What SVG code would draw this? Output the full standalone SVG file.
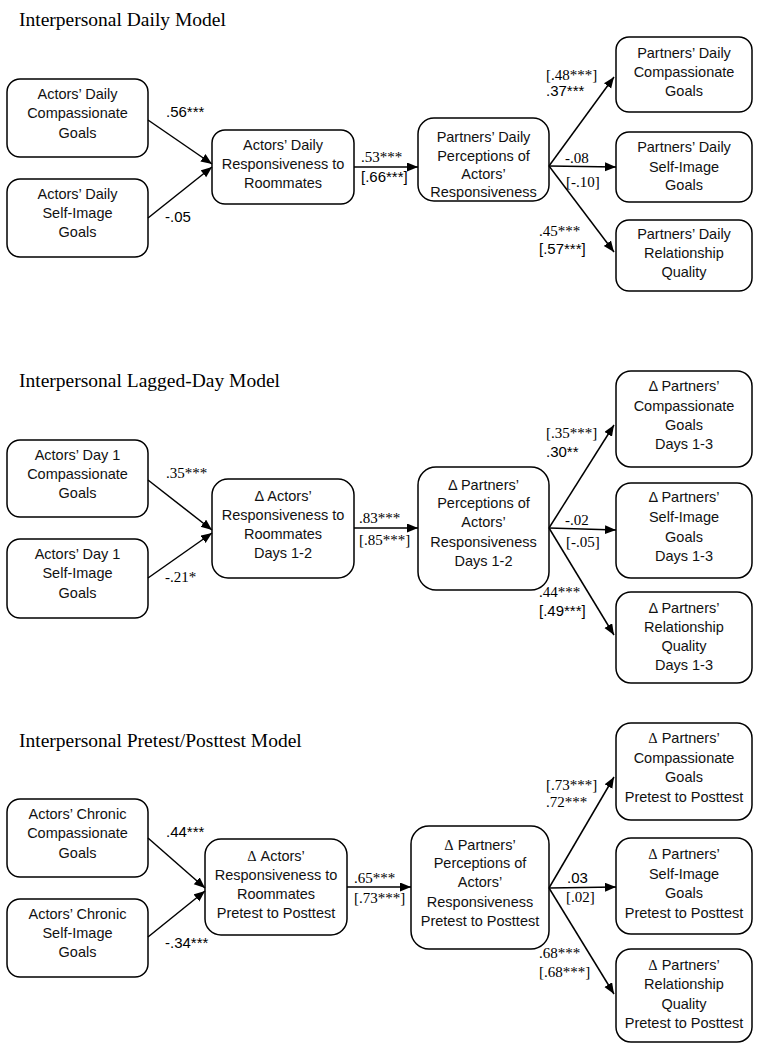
<svg xmlns="http://www.w3.org/2000/svg" width="766" height="1050" viewBox="0 0 766 1050">
<style>
.bg{fill:#fff}
.box{fill:#fff;stroke:#000;stroke-width:1.5}
.t{font-family:"Liberation Sans",Arial,sans-serif;font-size:14.5px;fill:#111;text-anchor:middle}
.title{font-family:"Liberation Serif","Times New Roman",serif;font-size:19.5px;fill:#000}
.ls{font-family:"Liberation Serif","Times New Roman",serif;font-size:15px;fill:#000}
.lsa{font-family:"Liberation Sans",Arial,sans-serif;font-size:15px;fill:#000}
.e{stroke:#000;stroke-width:1.5;fill:none;marker-end:url(#ah)}
.d{font-family:"Liberation Serif","Times New Roman",serif}
</style>
<defs>
<marker id="ah" markerUnits="userSpaceOnUse" markerWidth="12" markerHeight="10" refX="11" refY="4.5" orient="auto">
<path d="M0,0 L11,4.5 L0,9 z" fill="#000"/>
</marker>
</defs>
<rect class="bg" x="0" y="0" width="766" height="1050"/>

<!-- Section 1 -->
<text class="title" x="19" y="26">Interpersonal Daily Model</text>
<g id="s1-a1"><rect class="box" x="7" y="79" width="141" height="78" rx="13"/>
<text class="t" x="77.5" y="99">Actors’ Daily</text><text class="t" x="77.5" y="118">Compassionate</text><text class="t" x="77.5" y="138">Goals</text></g>
<g id="s1-a2"><rect class="box" x="7" y="179" width="141" height="78" rx="13"/>
<text class="t" x="77.5" y="199">Actors’ Daily</text><text class="t" x="77.5" y="218">Self-Image</text><text class="t" x="77.5" y="237">Goals</text></g>
<g id="s1-r"><rect class="box" x="212" y="130" width="142" height="74" rx="13"/>
<text class="t" x="283" y="150">Actors’ Daily</text><text class="t" x="283" y="169">Responsiveness to</text><text class="t" x="283" y="188">Roommates</text></g>
<g id="s1-p"><rect class="box" x="418" y="118" width="131" height="83" rx="16"/>
<text class="t" x="483.5" y="142">Partners’ Daily</text><text class="t" x="483.5" y="161">Perceptions of</text><text class="t" x="483.5" y="179">Actors’</text><text class="t" x="483.5" y="197">Responsiveness</text></g>
<g id="s1-o1"><rect class="box" x="616" y="37" width="136" height="75" rx="13"/>
<text class="t" x="684" y="58">Partners’ Daily</text><text class="t" x="684" y="77">Compassionate</text><text class="t" x="684" y="96">Goals</text></g>
<g id="s1-o2"><rect class="box" x="616" y="132" width="136" height="70" rx="13"/>
<text class="t" x="684" y="152">Partners’ Daily</text><text class="t" x="684" y="172">Self-Image</text><text class="t" x="684" y="190">Goals</text></g>
<g id="s1-o3"><rect class="box" x="616" y="220" width="136" height="71" rx="13"/>
<text class="t" x="684" y="239">Partners’ Daily</text><text class="t" x="684" y="258">Relationship</text><text class="t" x="684" y="277">Quality</text></g>

<!-- Section 2 -->
<text class="title" x="19" y="387">Interpersonal Lagged-Day Model</text>
<g id="s2-a1"><rect class="box" x="7" y="440" width="141" height="77" rx="13"/>
<text class="t" x="77.5" y="460">Actors’ Day 1</text><text class="t" x="77.5" y="479">Compassionate</text><text class="t" x="77.5" y="498">Goals</text></g>
<g id="s2-a2"><rect class="box" x="7" y="539" width="141" height="79" rx="13"/>
<text class="t" x="77.5" y="559">Actors’ Day 1</text><text class="t" x="77.5" y="578">Self-Image</text><text class="t" x="77.5" y="598">Goals</text></g>
<g id="s2-r"><rect class="box" x="212" y="479" width="142" height="99" rx="16"/>
<text class="t" x="283" y="501">Δ Actors’</text><text class="t" x="283" y="520">Responsiveness to</text><text class="t" x="283" y="539">Roommates</text><text class="t" x="283" y="558">Days 1-2</text></g>
<g id="s2-p"><rect class="box" x="418" y="467" width="131" height="123" rx="18"/>
<text class="t" x="483.5" y="490">Δ Partners’</text><text class="t" x="483.5" y="508">Perceptions of</text><text class="t" x="483.5" y="527">Actors’</text><text class="t" x="483.5" y="547">Responsiveness</text><text class="t" x="483.5" y="566">Days 1-2</text></g>
<g id="s2-o1"><rect class="box" x="616" y="371" width="136" height="96" rx="15"/>
<text class="t" x="684" y="391">Δ Partners’</text><text class="t" x="684" y="411">Compassionate</text><text class="t" x="684" y="430">Goals</text><text class="t" x="684" y="449">Days 1-3</text></g>
<g id="s2-o2"><rect class="box" x="616" y="483" width="136" height="95" rx="15"/>
<text class="t" x="684" y="502">Δ Partners’</text><text class="t" x="684" y="522">Self-Image</text><text class="t" x="684" y="542">Goals</text><text class="t" x="684" y="561">Days 1-3</text></g>
<g id="s2-o3"><rect class="box" x="616" y="592" width="136" height="91" rx="15"/>
<text class="t" x="684" y="613">Δ Partners’</text><text class="t" x="684" y="632">Relationship</text><text class="t" x="684" y="651">Quality</text><text class="t" x="684" y="670">Days 1-3</text></g>

<!-- Section 3 -->
<text class="title" x="19" y="747">Interpersonal Pretest/Posttest Model</text>
<g id="s3-a1"><rect class="box" x="7" y="799" width="141" height="78" rx="13"/>
<text class="t" x="77.5" y="819">Actors’ Chronic</text><text class="t" x="77.5" y="838">Compassionate</text><text class="t" x="77.5" y="858">Goals</text></g>
<g id="s3-a2"><rect class="box" x="7" y="899" width="141" height="78" rx="13"/>
<text class="t" x="77.5" y="919">Actors’ Chronic</text><text class="t" x="77.5" y="938">Self-Image</text><text class="t" x="77.5" y="957">Goals</text></g>
<g id="s3-r"><rect class="box" x="205" y="839" width="142" height="96" rx="16"/>
<text class="t" x="276" y="861"><tspan class="d">Δ</tspan> Actors’</text><text class="t" x="276" y="880">Responsiveness to</text><text class="t" x="276" y="899">Roommates</text><text class="t" x="276" y="918">Pretest to Posttest</text></g>
<g id="s3-p"><rect class="box" x="411" y="826" width="138" height="123" rx="18"/>
<text class="t" x="480" y="850"><tspan class="d">Δ</tspan> Partners’</text><text class="t" x="480" y="868">Perceptions of</text><text class="t" x="480" y="887">Actors’</text><text class="t" x="480" y="907">Responsiveness</text><text class="t" x="480" y="926">Pretest to Posttest</text></g>
<g id="s3-o1"><rect class="box" x="616" y="723" width="136" height="97" rx="15"/>
<text class="t" x="684" y="743"><tspan class="d">Δ</tspan> Partners’</text><text class="t" x="684" y="763">Compassionate</text><text class="t" x="684" y="782">Goals</text><text class="t" x="684" y="802">Pretest to Posttest</text></g>
<g id="s3-o2"><rect class="box" x="616" y="838" width="136" height="96" rx="15"/>
<text class="t" x="684" y="859"><tspan class="d">Δ</tspan> Partners’</text><text class="t" x="684" y="879">Self-Image</text><text class="t" x="684" y="898">Goals</text><text class="t" x="684" y="918">Pretest to Posttest</text></g>
<g id="s3-o3"><rect class="box" x="616" y="949" width="136" height="93" rx="15"/>
<text class="t" x="684" y="970"><tspan class="d">Δ</tspan> Partners’</text><text class="t" x="684" y="989">Relationship</text><text class="t" x="684" y="1009">Quality</text><text class="t" x="684" y="1028">Pretest to Posttest</text></g>

<g id="connectors">
<!-- sec1 -->
<line class="e" x1="148" y1="120" x2="212" y2="164"/>
<line class="e" x1="148" y1="218" x2="212" y2="167"/>
<line class="e" x1="354" y1="167" x2="418" y2="167"/>
<line class="e" x1="549" y1="166" x2="614" y2="77"/>
<line class="e" x1="549" y1="166" x2="616" y2="167"/>
<line class="e" x1="549" y1="166" x2="614" y2="252"/>
<!-- sec2 -->
<line class="e" x1="148" y1="480" x2="212" y2="530"/>
<line class="e" x1="148" y1="578" x2="212" y2="533"/>
<line class="e" x1="354" y1="528" x2="418" y2="528"/>
<line class="e" x1="549" y1="528" x2="614" y2="425"/>
<line class="e" x1="549" y1="528" x2="616" y2="530"/>
<line class="e" x1="549" y1="528" x2="614" y2="635"/>
<!-- sec3 -->
<line class="e" x1="148" y1="838" x2="205" y2="888"/>
<line class="e" x1="148" y1="937" x2="205" y2="891"/>
<line class="e" x1="347" y1="887" x2="411" y2="887"/>
<line class="e" x1="549" y1="888" x2="614" y2="777"/>
<line class="e" x1="549" y1="888" x2="616" y2="887"/>
<line class="e" x1="549" y1="888" x2="614" y2="994"/>
</g>

<g id="labels">
<text class="lsa" x="166" y="117">.56***</text>
<text class="lsa" x="165" y="222">-.05</text>
<text class="ls" x="361" y="162">.53***</text>
<text class="lsa" x="361" y="182">[.66***]</text>
<text class="ls" x="546" y="80">[.48***]</text>
<text class="lsa" x="546" y="96">.37***</text>
<text class="ls" x="565" y="163">-.08</text>
<text class="ls" x="566" y="187">[-.10]</text>
<text class="ls" x="539" y="236">.45***</text>
<text class="lsa" x="539" y="254">[.57***]</text>

<text class="ls" x="166" y="478">.35***</text>
<text class="ls" x="165" y="582">-.21*</text>
<text class="ls" x="359" y="523">.83***</text>
<text class="ls" x="359" y="545">[.85***]</text>
<text class="ls" x="546" y="438">[.35***]</text>
<text class="lsa" x="546" y="457">.30**</text>
<text class="ls" x="565" y="525">-.02</text>
<text class="ls" x="566" y="547">[-.05]</text>
<text class="ls" x="539" y="597">.44***</text>
<text class="lsa" x="539" y="616">[.49***]</text>

<text class="lsa" x="166" y="837">.44***</text>
<text class="lsa" x="165" y="948">-.34***</text>
<text class="ls" x="354" y="883">.65***</text>
<text class="ls" x="354" y="903">[.73***]</text>
<text class="ls" x="546" y="790">[.73***]</text>
<text class="ls" x="546" y="807">.72***</text>
<text class="lsa" x="567" y="883">.03</text>
<text class="ls" x="566" y="902">[.02]</text>
<text class="ls" x="539" y="958">.68***</text>
<text class="ls" x="539" y="977">[.68***]</text>
</g>
</svg>
